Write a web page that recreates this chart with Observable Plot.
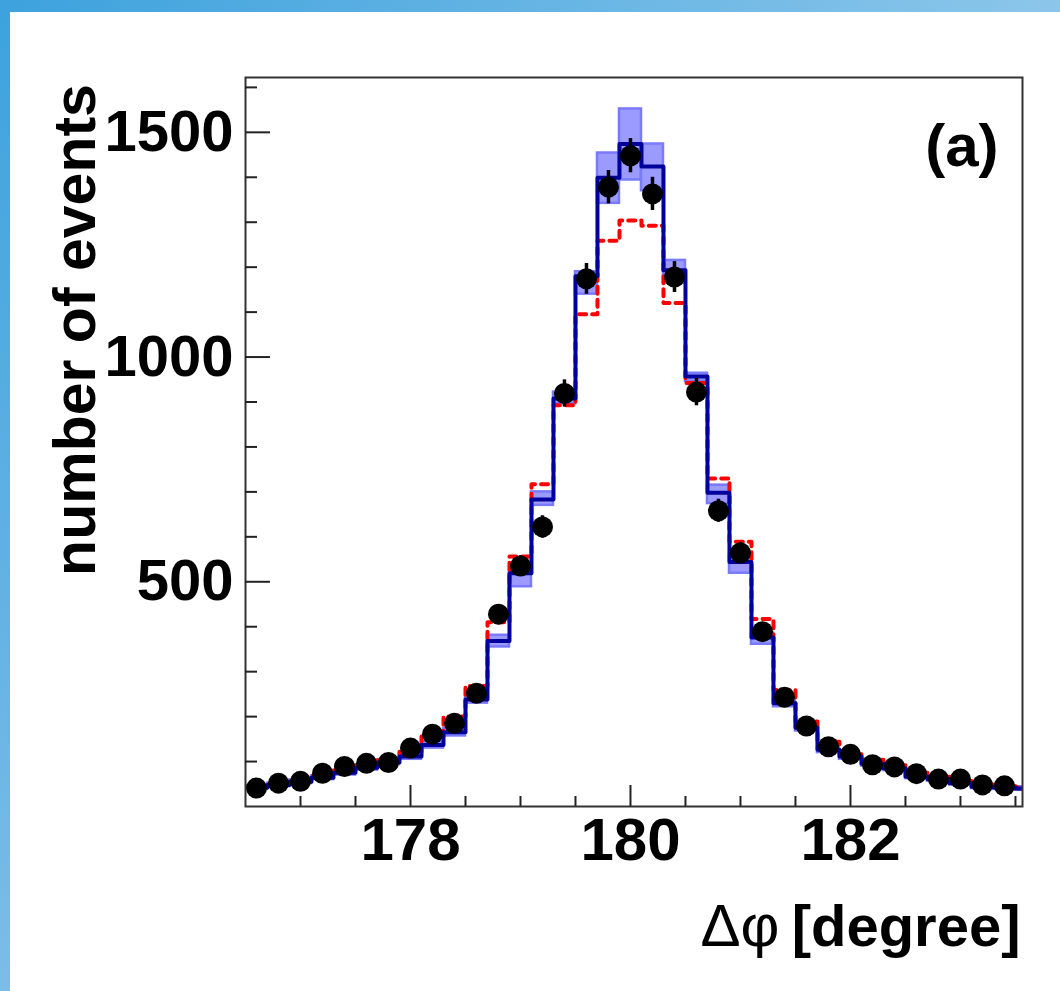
<!DOCTYPE html>
<html>
<head>
<meta charset="utf-8">
<script src="https://cdn.jsdelivr.net/npm/d3@7"></script>
<script src="https://cdn.jsdelivr.net/npm/@observablehq/plot@0.6"></script>
<style>
  html, body { margin: 0; padding: 0; background: #ffffff; }
  #wrap { position: relative; width: 1060px; height: 991px; overflow: hidden; background: #ffffff; }
  #chart { position: absolute; left: 0; top: 0; }
  #barTop { position: absolute; left: 0; top: 0; width: 1060px; height: 12px;
            background: linear-gradient(to right, #3da2dd, #8cc6ea); }
  #barLeft { position: absolute; left: 0; top: 0; width: 10px; height: 991px;
             background: linear-gradient(to bottom, #3da2dd, #7cbde8); }
</style>
</head>
<body>
<div id="wrap">
  <div id="chart"></div>
  <div id="barTop"></div>
  <div id="barLeft"></div>
</div>
<script>
// ---- data ----
const binWidth = 0.2;
const dataCenters = [176.6, 176.8, 177.0, 177.2, 177.4, 177.6, 177.8, 178.0, 178.2, 178.4,
                     178.6, 178.8, 179.0, 179.2, 179.4, 179.6, 179.8, 180.0, 180.2, 180.4,
                     180.6, 180.8, 181.0, 181.2, 181.4, 181.6, 181.8, 182.0, 182.2, 182.4,
                     182.6, 182.8, 183.0, 183.2, 183.4];
const dataCounts  = [41, 52, 56, 74, 89, 96, 98, 130, 161, 185,
                     252, 428, 535, 622, 919, 1174, 1378, 1448, 1363, 1178,
                     922, 658, 564, 389, 243, 179, 133, 116, 93, 88,
                     73, 61, 61, 48, 46];
const dataErrors  = [6, 7, 7.5, 8.6, 9.4, 9.8, 9.9, 11.4, 12.7, 13.6,
                     15.9, 20.7, 23.1, 24.9, 30.3, 34.3, 37.1, 38.1, 36.9, 34.3,
                     30.4, 25.7, 23.7, 19.7, 15.6, 13.4, 11.5, 10.8, 9.6, 9.4,
                     8.5, 7.8, 7.8, 6.9, 6.8];

const histCenters = [176.6, 176.8, 177.0, 177.2, 177.4, 177.6, 177.8, 178.0, 178.2, 178.4,
                     178.6, 178.8, 179.0, 179.2, 179.4, 179.6, 179.8, 180.0, 180.2, 180.4,
                     180.6, 180.8, 181.0, 181.2, 181.4, 181.6, 181.8, 182.0, 182.2, 182.4,
                     182.6, 182.8, 183.0, 183.2, 183.4, 183.6];
const mcBlue   = [42, 48, 55, 64, 75, 86, 98, 111, 137, 165,
                  238, 368, 519, 683, 908, 1180, 1399, 1474, 1424, 1193,
                  957, 698, 544, 376, 230, 175, 126, 111, 95, 85,
                  67, 61, 52, 44, 42, 40];
const bandLow  = [38, 44, 51, 60, 70, 81, 93, 105, 130, 157,
                  230, 355, 489, 670, 896, 1140, 1342, 1394, 1370, 1164,
                  946, 674, 519, 361, 222, 168, 120, 105, 90, 80,
                  62, 56, 48, 40, 38, 36];
const bandHigh = [46, 52, 59, 68, 80, 91, 103, 117, 144, 173,
                  246, 381, 524, 700, 922, 1190, 1454, 1552, 1474, 1215,
                  964, 715, 559, 386, 238, 182, 132, 117, 100, 90,
                  72, 66, 56, 48, 46, 44];
const mcRed    = [44, 50, 58, 68, 80, 92, 103, 122, 156, 200,
                  268, 410, 556, 717, 893, 1095, 1259, 1304, 1292, 1120,
                  942, 730, 589, 417, 259, 189, 144, 119, 104, 92,
                  75, 66, 57, 49, 45, 43];

const xDomain = [176.5, 183.564];
const yDomain = [0, 1622];
const xMajorTicks = [178, 180, 182];
const xMinorTicks = [177, 177.5, 178.5, 179, 179.5, 180.5, 181, 181.5, 182.5, 183, 183.5];
const yMajorTicks = [500, 1000, 1500];
const yMinorTicks = [100, 200, 300, 400, 600, 700, 800, 900, 1100, 1200, 1300, 1400, 1600];

// ---- derived tables ----
const points = dataCenters.map((c, i) => ({x: c, y: dataCounts[i], e: dataErrors[i]}));
const bins = histCenters.map((c, i) => ({
  x1: c - binWidth / 2, x2: c + binWidth / 2,
  blue: mcBlue[i], red: mcRed[i], lo: bandLow[i], hi: bandHigh[i]
}));
function steps(key) {
  const out = [];
  for (const b of bins) { out.push({x: b.x1, y: b[key]}); out.push({x: b.x2, y: b[key]}); }
  return out;
}

// ---- layout ----
const W = 1060, H = 991;
const mL = 245, mR = 38, mT = 77, mB = 185;
const pw = W - mL - mR, ph = H - mT - mB;
const font = "'Liberation Sans', Arial, Helvetica, sans-serif";
const tickColor = "#222";

const chart = Plot.plot({
  width: W, height: H,
  marginLeft: mL, marginRight: mR, marginTop: mT, marginBottom: mB,
  style: {fontFamily: font, fontWeight: "bold", fontSize: "58px", color: "#000", background: "transparent"},
  x: {domain: xDomain, axis: null},
  y: {domain: yDomain, axis: null},
  marks: [
    Plot.rect(bins, {x1: "x1", x2: "x2", y1: "lo", y2: "hi", fill: "#9a9aff", stroke: "#7a7aff", strokeWidth: 2.5, clip: true}),
    Plot.line(steps("red"), {x: "x", y: "y", stroke: "#ff0000", strokeWidth: 4, strokeDasharray: "7,6", clip: true}),
    Plot.line(steps("blue"), {x: "x", y: "y", stroke: "#00009c", strokeWidth: 4, clip: true}),
    Plot.ruleX(points, {x: "x", y1: d => d.y - d.e, y2: d => d.y + d.e, stroke: "#000", strokeWidth: 3.5}),
    Plot.dot(points, {x: "x", y: "y", r: 10.5, fill: "#000", stroke: "none"}),
    Plot.frame({stroke: "#333", strokeWidth: 2}),
    Plot.tickX(xMajorTicks, {x: d => d, insetTop: ph - 21, stroke: tickColor, strokeWidth: 2}),
    Plot.tickX(xMinorTicks, {x: d => d, insetTop: ph - 10, stroke: tickColor, strokeWidth: 2}),
    Plot.tickY(yMajorTicks, {y: d => d, insetRight: pw - 25, stroke: tickColor, strokeWidth: 2}),
    Plot.tickY(yMinorTicks, {y: d => d, insetRight: pw - 12, stroke: tickColor, strokeWidth: 2}),
    Plot.axisX(xMajorTicks, {anchor: "bottom", tickSize: 0, tickPadding: 11, tickFormat: d => String(d), fontSize: 60, fontWeight: "bold", label: null}),
    Plot.axisY(yMajorTicks, {anchor: "left", tickSize: 0, tickPadding: 12, tickFormat: d => String(d), fontSize: 58, fontWeight: "bold", label: null}),
    Plot.text(["number of events"], {frameAnchor: "left", rotate: -90, textAnchor: "middle", lineAnchor: "bottom", dx: -151, dy: -112, fontSize: 59, fontWeight: "bold", fill: "#000"}),
    Plot.text(["(a)"], {frameAnchor: "top-right", textAnchor: "end", lineAnchor: "top", dx: -24, dy: 46, fontSize: 60, fontWeight: "bold", fill: "#000"}),
    Plot.text(["[degree]"], {frameAnchor: "bottom-right", textAnchor: "end", lineAnchor: "bottom", dx: -2, dy: 139, fontSize: 58, fontWeight: "bold", fill: "#000"}),
    Plot.text(["Δφ"], {frameAnchor: "bottom-right", textAnchor: "end", lineAnchor: "bottom", dx: -243, dy: 139, fontSize: 60, fontWeight: "normal", fill: "#000"})
  ]
});
document.getElementById("chart").appendChild(chart);
</script>
</body>
</html>
